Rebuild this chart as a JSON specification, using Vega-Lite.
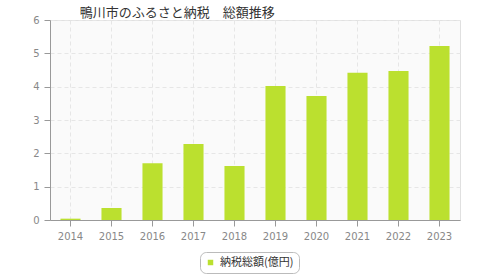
{
  "$schema": "https://vega.github.io/schema/vega-lite/v6.json",
  "width": 410,
  "height": 200,
  "autosize": {"type": "none"},
  "padding": {"left": 50, "top": 20, "right": 20, "bottom": 60},
  "background": "white",
  "title": {
    "text": "鴨川市のふるさと納税　総額推移",
    "anchor": "start",
    "dx": 47,
    "offset": 0,
    "dy": 5,
    "fontSize": 13,
    "fontWeight": "normal",
    "font": "Noto Sans CJK JP",
    "color": "#333333"
  },
  "data": {
    "values": [
      {"year": "2014", "value": 0.04, "series": "納税総額(億円)"},
      {"year": "2015", "value": 0.36, "series": "納税総額(億円)"},
      {"year": "2016", "value": 1.70, "series": "納税総額(億円)"},
      {"year": "2017", "value": 2.28, "series": "納税総額(億円)"},
      {"year": "2018", "value": 1.62, "series": "納税総額(億円)"},
      {"year": "2019", "value": 4.02, "series": "納税総額(億円)"},
      {"year": "2020", "value": 3.72, "series": "納税総額(億円)"},
      {"year": "2021", "value": 4.42, "series": "納税総額(億円)"},
      {"year": "2022", "value": 4.47, "series": "納税総額(億円)"},
      {"year": "2023", "value": 5.22, "series": "納税総額(億円)"}
    ]
  },
  "mark": {"type": "bar"},
  "encoding": {
    "x": {
      "field": "year",
      "type": "ordinal",
      "scale": {"paddingInner": 0.51, "paddingOuter": 0.255},
      "axis": {
        "title": null,
        "labelAngle": 0,
        "labelFont": "DejaVu Sans",
        "labelFontSize": 10,
        "labelColor": "#888888",
        "labelPadding": 5,
        "tickSize": 6,
        "tickColor": "#999999",
        "domainColor": "#999999",
        "grid": true,
        "gridColor": "#e6e6e6",
        "gridDash": [4, 3]
      }
    },
    "y": {
      "field": "value",
      "type": "quantitative",
      "scale": {"domain": [0, 6]},
      "axis": {
        "title": null,
        "tickCount": 6,
        "labelFont": "DejaVu Sans",
        "labelFontSize": 10,
        "labelColor": "#888888",
        "labelPadding": 5,
        "tickSize": 6,
        "tickColor": "#999999",
        "domainColor": "#999999",
        "gridColor": "#e6e6e6",
        "gridDash": [4, 3]
      }
    },
    "color": {
      "field": "series",
      "type": "nominal",
      "scale": {"range": ["#bbe02f"]},
      "legend": {
        "title": null,
        "orient": "none",
        "legendX": 150,
        "legendY": 232,
        "symbolType": "square",
        "symbolSize": 30,
        "labelFont": "Noto Sans CJK JP",
        "labelFontSize": 11,
        "labelColor": "#333333",
        "strokeColor": "#bbbbbb",
        "fillColor": "white",
        "cornerRadius": 6,
        "padding": 5
      }
    }
  },
  "config": {
    "view": {"fill": "#fafafa", "stroke": "#e0e0e0"}
  }
}
